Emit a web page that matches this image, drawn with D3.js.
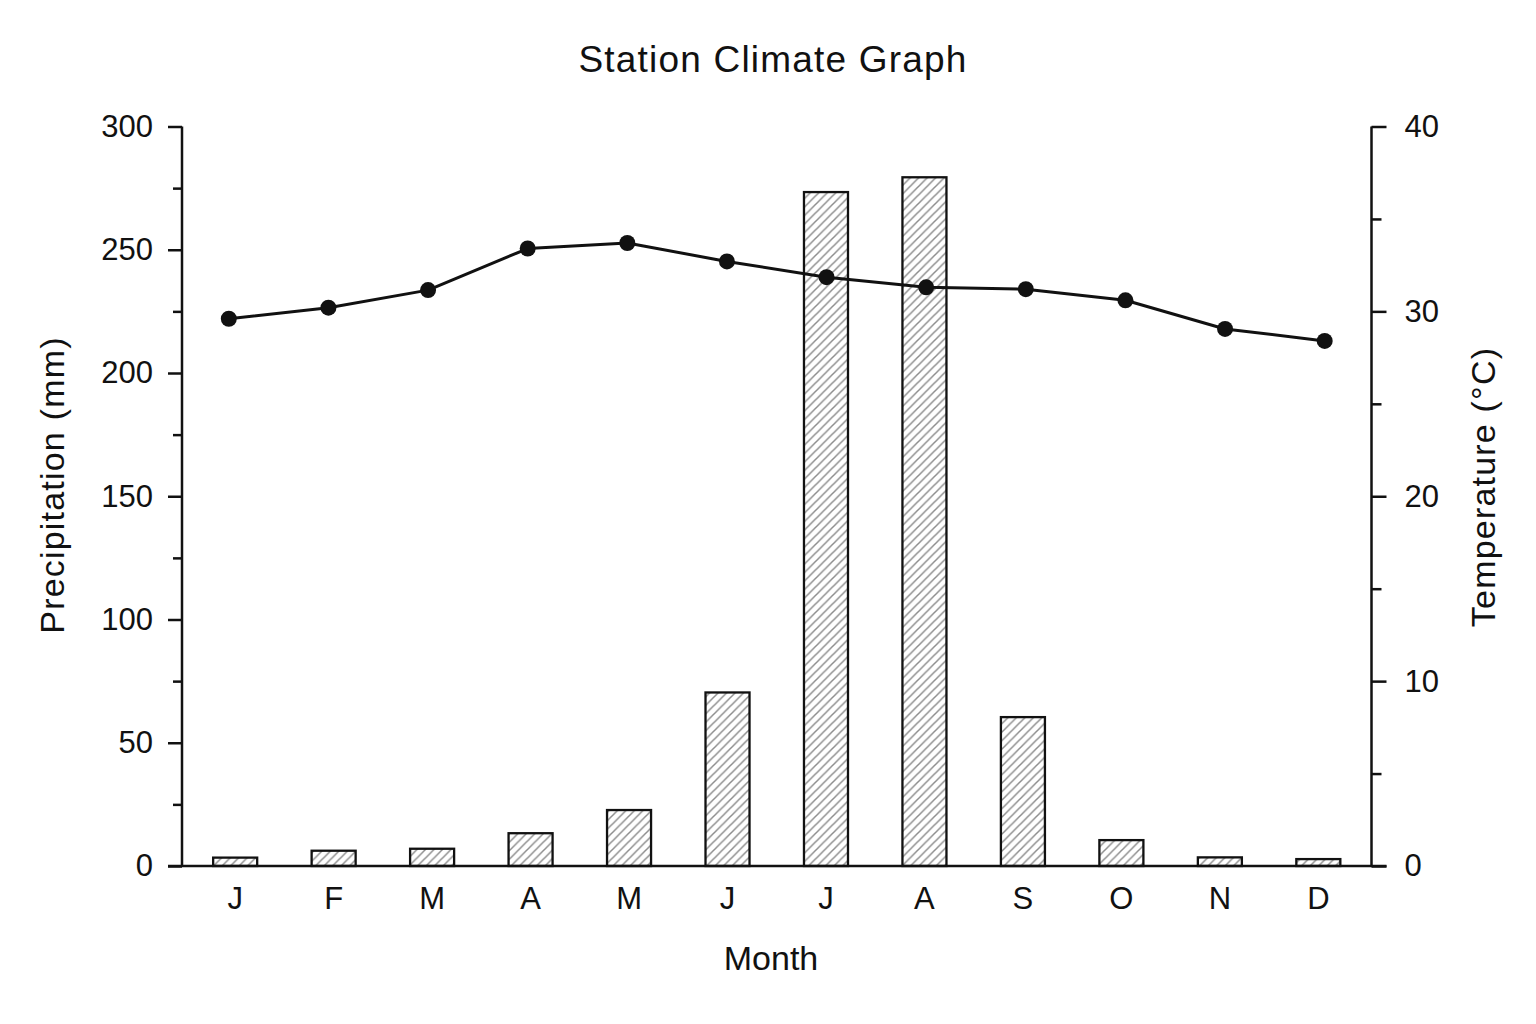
<!DOCTYPE html>
<html>
<head>
<meta charset="utf-8">
<script src="https://cdn.jsdelivr.net/npm/d3@7"></script>
<style>
  html, body { margin: 0; padding: 0; background: #ffffff; }
  svg { display: block; }
  text { font-family: "Liberation Sans", Arial, Helvetica, sans-serif; fill: #111; }
</style>
</head>
<body>
<svg id="chart" width="1536" height="1024"></svg>
<script>
const months = ["J","F","M","A","M","J","J","A","S","O","N","D"];
const precipitation = [3.4, 6.2, 7.0, 13.3, 22.7, 70.4, 273.4, 279.4, 60.4, 10.5, 3.5, 2.8];
const temperature = [29.6, 30.2, 31.15, 33.4, 33.7, 32.7, 31.85, 31.3, 31.2, 30.6, 29.05, 28.4];
const precipTicks = [0, 50, 100, 150, 200, 250, 300];
const precipMinorTicks = [25, 75, 125, 175, 225, 275];
const tempTicks = [0, 10, 20, 30, 40];
const tempMinorTicks = [5, 15, 25, 35];
const titleText = "Station Climate Graph";
const xLabel = "Month";
const yLeftLabel = "Precipitation (mm)";
const yRightLabel = "Temperature (°C)";

(function () {
const svg = d3.select("#chart");
const mLeft = 182, mRight = 1371.5, mTop = 126.5, mBottom = 866;
const idx = months.map((_, i) => i);

const x = d3.scaleBand().domain(idx).range([mLeft, mRight]).paddingInner(0.553).paddingOuter(0.3165);
const xLine = d3.scalePoint().domain(idx).range([mLeft, mRight]).padding(0.47);
const yP = d3.scaleLinear().domain([0, 300]).range([mBottom, mTop]);
const yT = d3.scaleLinear().domain([0, 40]).range([mBottom, mTop]);

// hatch pattern
const hs = 8.5;
const defs = svg.append("defs");
const pat = defs.append("pattern").attr("id", "hatch").attr("patternUnits", "userSpaceOnUse")
  .attr("width", hs).attr("height", hs);
pat.append("rect").attr("width", hs).attr("height", hs).attr("fill", "#fff");
pat.append("path")
  .attr("d", `M${-hs/4},${hs/4} L${hs/4},${-hs/4} M0,${hs} L${hs},0 M${hs*0.75},${hs*1.25} L${hs*1.25},${hs*0.75}`)
  .attr("stroke", "#8c8c8c").attr("stroke-width", 1.5);

// bars
svg.append("g").selectAll("rect").data(precipitation).join("rect")
  .attr("x", (d, i) => x(i))
  .attr("width", x.bandwidth())
  .attr("y", d => yP(d))
  .attr("height", d => yP(0) - yP(d))
  .attr("fill", "url(#hatch)")
  .attr("stroke", "#111").attr("stroke-width", 2.3);

// left axis
const axL = svg.append("g").attr("transform", `translate(${mLeft},0)`)
  .call(d3.axisLeft(yP).tickValues(precipTicks).tickSize(14).tickPadding(15).tickFormat(d3.format("d")));
const axLm = svg.append("g").attr("transform", `translate(${mLeft},0)`)
  .call(d3.axisLeft(yP).tickValues(precipMinorTicks).tickSize(9).tickFormat(""));
axLm.select(".domain").remove();

// right axis
const axR = svg.append("g").attr("transform", `translate(${mRight},0)`)
  .call(d3.axisRight(yT).tickValues(tempTicks).tickSize(15).tickPadding(18).tickFormat(d3.format("d")));
const axRm = svg.append("g").attr("transform", `translate(${mRight},0)`)
  .call(d3.axisRight(yT).tickValues(tempMinorTicks).tickSize(10).tickFormat(""));
axRm.select(".domain").remove();

[axL, axR, axLm, axRm].forEach(g => {
  g.selectAll(".domain").attr("stroke", "#111").attr("stroke-width", 2.5);
  g.selectAll(".tick line").attr("stroke", "#111").attr("stroke-width", 2.5);
  g.selectAll(".tick text").attr("font-size", 31).attr("fill", "#111")
    .attr("font-family", "'Liberation Sans', Arial, sans-serif");
});
axL.select(".domain").attr("d", `M0,${mTop}V${mBottom}`).attr("fill", "none");
axR.select(".domain").attr("d", `M0,${mTop}V${mBottom}`).attr("fill", "none");

// bottom axis (labels only) + baseline
const axB = svg.append("g").attr("transform", `translate(0,${mBottom})`)
  .call(d3.axisBottom(x).tickSize(0).tickPadding(21).tickFormat(i => months[i]));
axB.select(".domain").remove();
axB.selectAll(".tick text").attr("font-size", 31).attr("fill", "#111")
  .attr("font-family", "'Liberation Sans', Arial, sans-serif");
svg.append("line").attr("x1", mLeft - 14).attr("x2", mRight + 15)
  .attr("y1", mBottom).attr("y2", mBottom).attr("stroke", "#111").attr("stroke-width", 2.5);

// temperature line
const line = d3.line().x((d, i) => xLine(i)).y(d => yT(d));
svg.append("path").datum(temperature).attr("d", line)
  .attr("fill", "none").attr("stroke", "#111").attr("stroke-width", 3).attr("stroke-linejoin", "round");
svg.append("g").selectAll("circle").data(temperature).join("circle")
  .attr("cx", (d, i) => xLine(i)).attr("cy", d => yT(d)).attr("r", 8).attr("fill", "#111");

// title & labels
svg.append("text").attr("x", 773).attr("y", 72).attr("text-anchor", "middle")
  .attr("font-size", 37).attr("letter-spacing", 1.2).text(titleText);
svg.append("text").attr("x", 771).attr("y", 970).attr("text-anchor", "middle")
  .attr("font-size", 34).text(xLabel);
svg.append("text").attr("transform", "translate(64,485) rotate(-90)").attr("text-anchor", "middle")
  .attr("font-size", 34).attr("letter-spacing", 1.2).text(yLeftLabel);
svg.append("text").attr("transform", "translate(1495,487) rotate(-90)").attr("text-anchor", "middle")
  .attr("font-size", 34).attr("letter-spacing", 1.2).text(yRightLabel);
})();
</script>
</body>
</html>
